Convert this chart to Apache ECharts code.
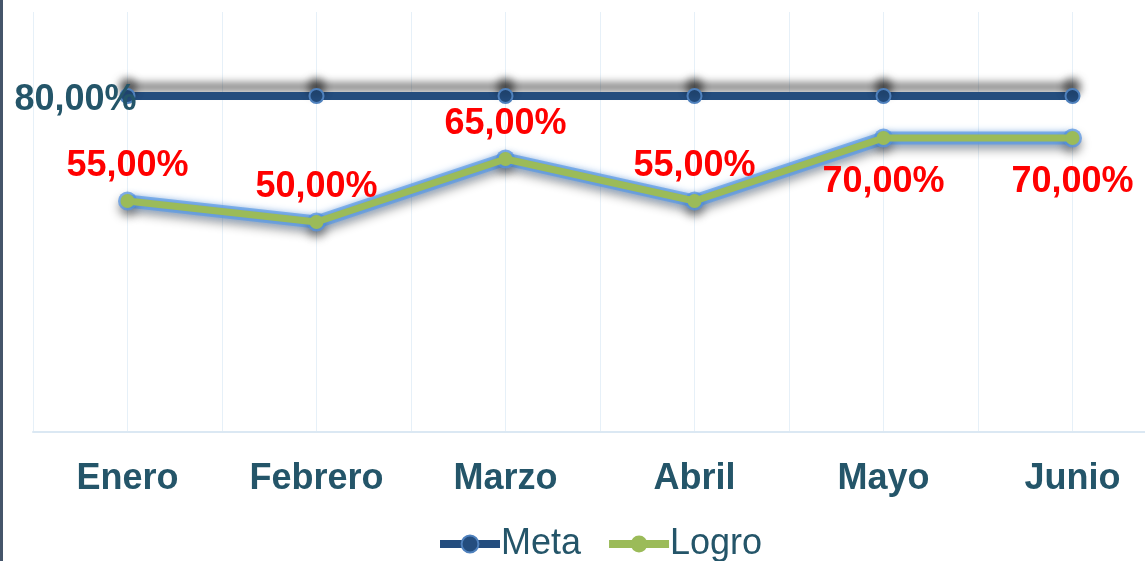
<!DOCTYPE html>
<html>
<head>
<meta charset="utf-8">
<title>Meta vs Logro</title>
<script src="https://cdn.jsdelivr.net/npm/echarts@6/dist/echarts.min.js"></script>
<style>
  html, body { margin: 0; padding: 0; background: #fff; }
  #main { width: 1145px; height: 561px; }
</style>
</head>
<body>
<div id="main"></div>
<script>
const months = ['Enero', 'Febrero', 'Marzo', 'Abril', 'Mayo', 'Junio'];
const meta = [0.80, 0.80, 0.80, 0.80, 0.80, 0.80];
const logro = [0.55, 0.50, 0.65, 0.55, 0.70, 0.70];
// logro labels sit above the point except the last two
const logroLabelPos = ['top', 'top', 'top', 'top', 'bottom', 'bottom'];

const textColor = '#245569';
const font = 'Liberation Sans, Arial, sans-serif';

function pct(v) {
    return (v * 100).toFixed(2).replace('.', ',') + '%';
}

const metaData = meta.map(function (v, i) {
    return {
        value: v,
        label: {
            show: i === 0,
            position: 'left',
            distance: -17,
            offset: [0, 4],
            color: textColor,
            fontSize: 36,
            fontWeight: 'bold',
            fontFamily: font,
            formatter: function (p) { return pct(p.value); }
        }
    };
});

const logroData = logro.map(function (v, i) {
    const pos = logroLabelPos[i];
    return {
        value: v,
        label: {
            show: true,
            position: pos,
            distance: pos === 'top' ? 10 : 19,
            color: '#ff0000',
            fontSize: 36,
            fontWeight: 'bold',
            fontFamily: font,
            formatter: function (p) { return pct(p.value); }
        }
    };
});

// grid lines every half category
const halfCats = [];
months.forEach(function (m) { halfCats.push(m + 'a', m + 'b'); });

const noShadow = { shadowBlur: 0, shadowColor: 'transparent', shadowOffsetY: 0 };

const options = {
    animation: false,
    backgroundColor: '#ffffff',
    // the plot runs past the right edge of the picture
    grid: { left: 33, right: -22, top: 12, bottom: 129, containLabel: false, outerBoundsMode: 'none' },
    legend: {
        data: [{
            name: 'Meta',
            lineStyle: Object.assign({ width: 8 }, noShadow),
            itemStyle: Object.assign({ borderColor: '#4f81bd', borderWidth: 2 }, noShadow)
        }, {
            name: 'Logro',
            lineStyle: Object.assign({ width: 8 }, noShadow),
            itemStyle: noShadow
        }],
        left: 431,
        top: 521,
        itemWidth: 60,
        itemHeight: 21,
        itemGap: 24,
        textStyle: { fontSize: 36, color: textColor, fontFamily: font, padding: [0, 0, 0, -4] }
    },
    xAxis: [{
        type: 'category',
        data: months,
        boundaryGap: true,
        axisLine: { lineStyle: { color: '#dbe8f3', width: 2 } },
        axisTick: { show: false },
        splitLine: { show: false },
        axisLabel: {
            color: textColor,
            fontSize: 36,
            fontWeight: 'bold',
            fontFamily: font,
            margin: 29
        }
    }, {
        type: 'category',
        data: halfCats,
        boundaryGap: true,
        position: 'bottom',
        axisLine: { show: false },
        axisTick: { show: false },
        axisLabel: { show: false },
        splitLine: { show: true, interval: 0, lineStyle: { color: '#e6f0f8', width: 1 } }
    }],
    yAxis: {
        type: 'value',
        min: 0,
        max: 1,
        show: false
    },
    graphic: [{
        type: 'rect',
        left: 0,
        top: 0,
        shape: { width: 3, height: 561 },
        style: { fill: '#45556a' }
    }],
    series: [{
        name: 'Meta',
        type: 'line',
        xAxisIndex: 0,
        data: metaData,
        symbol: 'circle',
        symbolSize: 14,
        z: 3,
        lineStyle: {
            color: '#244d7e',
            width: 8,
            shadowColor: 'rgba(0,0,0,0.55)',
            shadowBlur: 8,
            shadowOffsetY: -9
        },
        itemStyle: {
            color: '#244d7e',
            borderColor: '#4f81bd',
            borderWidth: 2,
            shadowColor: 'rgba(0,0,0,0.6)',
            shadowBlur: 8,
            shadowOffsetY: -9
        }
    }, {
        // glow under the Logro line
        name: 'LogroGlow',
        type: 'line',
        xAxisIndex: 0,
        data: logro,
        symbol: 'circle',
        symbolSize: 19,
        silent: true,
        z: 2,
        lineStyle: {
            color: 'rgba(100,160,230,0.7)',
            width: 13,
            shadowColor: 'rgba(0,0,0,0.45)',
            shadowBlur: 10,
            shadowOffsetY: 6
        },
        itemStyle: {
            color: 'rgba(90,150,225,0.75)',
            shadowColor: 'rgba(0,0,0,0.5)',
            shadowBlur: 10,
            shadowOffsetY: 6
        }
    }, {
        name: 'Logro',
        type: 'line',
        xAxisIndex: 0,
        data: logroData,
        symbol: 'circle',
        symbolSize: 14,
        z: 4,
        lineStyle: {
            color: '#9bbb59',
            width: 7,
            shadowColor: 'rgba(70,140,225,1)',
            shadowBlur: 10
        },
        itemStyle: {
            color: '#9bbb59'
        }
    }]
};

const E = echarts.init(document.getElementById('main'));
window.onresize = function () {
    E.resize();
};
E.setOption(options);
</script>
</body>
</html>
